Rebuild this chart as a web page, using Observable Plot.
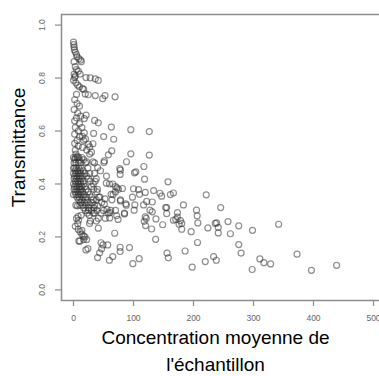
<!DOCTYPE html>
<html>
<head>
<meta charset="utf-8">
<script src="https://cdn.jsdelivr.net/npm/d3@7"></script>
<script src="https://cdn.jsdelivr.net/npm/@observablehq/plot@0.6"></script>
<style>
  html, body { margin: 0; padding: 0; background: #fff; overflow: hidden; }
  #chart svg { display: block; }
</style>
</head>
<body>
<div id="chart"></div>
<script>
// Concentration moyenne de l'échantillon vs Transmittance
const sparsePoints = [
  [438.5,0.093],[396.6,0.074],[372.6,0.135],[341.9,0.248],[328.5,0.098],[317.3,0.103],[310.6,0.117],
  [297.8,0.077],[298.3,0.225],[279.3,0.139],[275.4,0.171],[275.4,0.242],[261.5,0.212],[257.5,0.258],
  [245.3,0.311],[241.3,0.215],[241.3,0.236],[238.5,0.253],[236.3,0.251],[238,0.112],[233.5,0.126],
  [224,0.234],[221.2,0.359],[219.6,0.107],[206.7,0.179],[207.3,0.253],[206.1,0.280],[205,0.301],
  [197.8,0.086],[196.1,0.220],[186,0.147],[183.2,0.321],[180.4,0.229],[180.4,0.251],[178.2,0.262],
  [176,0.248],[173.2,0.275],[173.2,0.292],[170.4,0.266],[166.5,0.263],[166.5,0.366],[161.5,0.360],
  [157.5,0.408],[158.1,0.121],[155.9,0.139],[155.3,0.288],[155.3,0.311],[153.6,0.311],[148.6,0.246],
  [146.9,0.354],[144.1,0.365],[136.9,0.191],[137.4,0.268],[133.5,0.375],[131.3,0.332],[131.3,0.295],
  [130.2,0.230],[127.4,0.301],[126.3,0.598],[126.3,0.509],[122,0.334],[121.2,0.270],[119.6,0.276],
  [119.6,0.368],[118.4,0.418],[117.3,0.466],[116.8,0.321],[117.9,0.259],[120.1,0.243],[109.5,0.118],
  [110,0.361],[108.4,0.379],[103.9,0.446],[101.7,0.442],[102.2,0.321],[101.1,0.301],[100,0.382],
  [98.9,0.099],[98.3,0.350],[95.5,0.605],[95.5,0.514],[93.3,0.160],[88.3,0.484],[87.2,0.325],
  [84.9,0.287],[81.6,0.383],[78.2,0.336],[78.2,0.340],[78.2,0.452],[77.1,0.458],[77.7,0.436],
  [77.7,0.161],[77.7,0.145],[74.3,0.266],[72.6,0.385],[69.8,0.370],[68.7,0.214],[69.3,0.729],
  [67,0.569],[65.4,0.126],[63.1,0.615],[65.4,0.400],[63.7,0.525],[62.6,0.361],[60.9,0.292],
  [59.8,0.112],[58.1,0.510],[60.3,0.272],[57,0.170],[52.5,0.734],[51.4,0.487],[50.8,0.481],
  [50.3,0.579],[54.7,0.403],[55.9,0.304],[51.4,0.324],[52.5,0.344],[49.2,0.170],[48.6,0.722],
  [46.9,0.155],[45.8,0.178],[43.6,0.140],[40.2,0.122],[41.3,0.791],[41.3,0.631],[40.2,0.462],
  [41.3,0.233],[41.3,0.270],[40.2,0.317],[36.3,0.797],[36.3,0.734],[35.2,0.640],[33.5,0.591],
  [32.4,0.552],[32.4,0.484],[27.9,0.801],[24.6,0.737],[19.6,0.740],[20.7,0.802],[26.8,0.251],
  [26.3,0.282],[24,0.156],[20.7,0.151],[16.8,0.190],[16.8,0.204],[10.6,0.184],[8.9,0.185],
  [14,0.225],[7.8,0.229],[8.4,0.263],[7.8,0.278],[12.8,0.282],[6.7,0.317],[10.6,0.320]
];
const spinePoints = [
  [0,0.936],[0.5,0.926],[1,0.917],[1.5,0.907],[3,0.898],[5,0.889],[6,0.880],[9,0.873],[12,0.868],
  [13,0.862],[1,0.862],[3,0.843],[5,0.832],[8,0.826],[11,0.815],[1,0.815],[3,0.808],[2,0.802],
  [0,0.792],[4,0.782],[7,0.773],[10,0.767],[15,0.760],[17,0.757],[5,0.738],[2,0.718],[6,0.704],
  [10,0.694],[1,0.681],[7,0.668],[12,0.656],[18,0.647],[21,0.660],[5,0.650],[2,0.638],[10,0.628],
  [3,0.613],[14,0.613],[8,0.601],[18,0.593],[2,0.588],[10,0.578],[6,0.565],[17,0.565],[2,0.553],
  [8,0.543],[15,0.538],[22,0.528],[27,0.513],[3,0.528],[4,0.513],[7,0.503],[2,0.493],[10,0.490],
  [17,0.492],[22,0.484],[30,0.52],[35,0.48],[27,0.54],[25,0.55],[20,0.57],[15,0.58],[45,0.45],
  [55,0.43],[60,0.40],[40,0.38]
];
const clusterPoints = [
  [0,0.50],[3,0.50],[6,0.50],[9,0.50],[14,0.50],
  [1,0.48],[4,0.48],[8,0.48],[12,0.48],[20,0.48],
  [0,0.46],[2,0.46],[5,0.46],[9,0.46],[13,0.46],[24,0.46],
  [3,0.45],[7,0.45],[11,0.45],[16,0.45],
  [0,0.44],[4,0.44],[8,0.44],[12,0.44],[19,0.44],[27,0.44],[35,0.44],
  [2,0.43],[6,0.43],[10,0.43],[15,0.43],[22,0.43],
  [1,0.42],[5,0.42],[9,0.42],[13,0.42],[25,0.42],[38,0.42],
  [3,0.41],[7,0.41],[11,0.41],[16,0.41],[28,0.41],[36,0.41],
  [0,0.40],[4,0.40],[8,0.40],[12,0.40],[17,0.40],[33,0.40],
  [2,0.39],[6,0.39],[10,0.39],[14,0.39],[19,0.39],[30,0.39],
  [1,0.38],[5,0.38],[9,0.38],[13,0.38],[21,0.38],[34,0.38],
  [3,0.37],[7,0.37],[11,0.37],[15,0.37],[24,0.37],[39,0.37],
  [0,0.36],[4,0.36],[8,0.36],[12,0.36],[18,0.36],[27,0.36],
  [6,0.35],[10,0.35],[16,0.35],[22,0.35],[30,0.35],[42,0.35],
  [9,0.34],[14,0.34],[20,0.34],[33,0.34],[38,0.34],
  [12,0.33],[18,0.33],[24,0.33],[31,0.33],
  [4,0.32],[15,0.32],[21,0.32],[28,0.32],[35,0.32],
  [17,0.31],[25,0.31],[34,0.31],
  [20,0.30],[30,0.30],[39,0.30],[23,0.29],[33,0.29],
  [44,0.35],[47,0.33],[50,0.30],[46,0.29],[53,0.27],[38,0.26],[35,0.29],[58,0.29],[62,0.30],
  [64,0.34],[66,0.36],[70,0.39],[75,0.38],[70,0.30],[72,0.28],[85,0.29],[88,0.32],
  [5,0.27],[7,0.25],[3,0.24],[11,0.22],[14,0.21],[19,0.20],[22,0.19],[25,0.30],[28,0.26]
];
const xTicks = [0, 100, 200, 300, 400, 500];
const yTicks = [0, 0.2, 0.4, 0.6, 0.8, 1.0];
const xTitle = "Concentration moyenne de\nl'échantillon";
const yTitle = "Transmittance";

const points = [...sparsePoints, ...spinePoints, ...clusterPoints]
  .map(([c, t]) => ({concentration: c, transmittance: t}));

const gray = "#8c8c8c";
const chart = Plot.plot({
  width: 379,
  height: 376,
  marginLeft: 61,
  marginRight: -6,
  marginTop: 14,
  marginBottom: 76,
  style: {fontFamily: "'Liberation Sans', Arial, sans-serif", background: "#fff", overflow: "hidden"},
  x: {domain: [-20, 520], axis: null},
  y: {domain: [-0.04, 1.04], axis: null},
  marks: [
    Plot.axisX(xTicks, {tickSize: 6, stroke: gray, strokeWidth: 1.2, text: null, label: null}),
    Plot.axisY(yTicks, {tickSize: 6, stroke: gray, strokeWidth: 1.2, text: null, label: null}),
    Plot.text(xTicks, {x: d => d, frameAnchor: "bottom", dy: 18, text: d => String(d),
      fontSize: 8.5, fill: "#666", lineAnchor: "middle"}),
    Plot.text(yTicks, {y: d => d, frameAnchor: "left", dx: -19.5, rotate: -90, text: d => d.toFixed(1),
      fontSize: 8.5, fill: "#666", lineAnchor: "middle", textAnchor: "middle"}),
    Plot.frame({stroke: gray, strokeWidth: 1.5}),
    Plot.dot(points, {x: "concentration", y: "transmittance", r: 3, stroke: "#333",
      strokeOpacity: 0.55, strokeWidth: 1.2, fill: "none"}),
    Plot.text([yTitle], {frameAnchor: "left", dx: -42.5, dy: -10, rotate: -90, text: d => d,
      fontSize: 19, fill: "#000", lineAnchor: "middle", textAnchor: "middle"}),
    Plot.text([xTitle], {frameAnchor: "bottom", dx: -8, dy: 48.5, text: d => d,
      fontSize: 19, fill: "#000", lineAnchor: "middle", textAnchor: "middle", lineHeight: 1.42})
  ]
});
document.getElementById("chart").append(chart);
</script>
</body>
</html>
